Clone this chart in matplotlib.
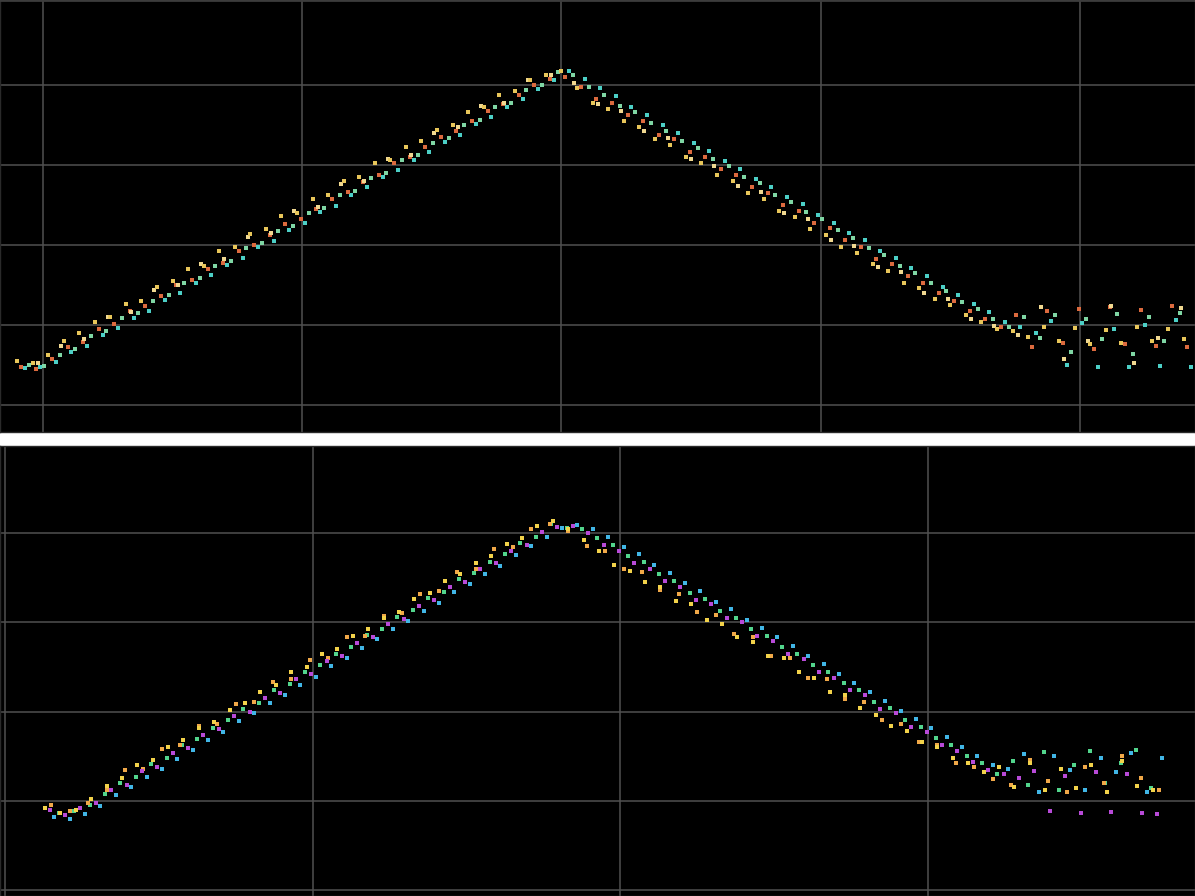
import matplotlib
matplotlib.use("Agg")
import matplotlib.pyplot as plt

# ---------------- top panel data ----------------
top_yellow_x = [-5, -2, 1, 4, 7, 10, 13, 16, 19, 22, 25, 28, 31, 34, 37, 40, 43, 46, 49, 52,
                55, 58, 61, 64, 67, 70, 73, 76, 79, 82, 85, 88, 91, 94, 97, 100, 103, 106, 109, 112,
                115, 118, 121, 124, 127, 130, 133, 136, 139, 142, 145, 148, 151, 154, 157, 160, 163, 166, 169, 172,
                175, 178, 181, 184, 187, 190, 193, 196, 199, 202, 205, 208, 211, 214, 217, 220]
top_yellow_y = [0.55, 0.52, 0.62, 0.80, 0.90, 1.04, 1.10, 1.26, 1.30, 1.48, 1.55, 1.70, 1.74, 1.93, 1.98, 2.14, 2.20, 2.36, 2.40, 2.58,
                2.62, 2.80, 2.85, 3.02, 3.06, 3.22, 3.30, 3.44, 3.50, 3.66, 3.72, 3.88, 3.92, 4.06, 4.12, 4.18, 3.96, 3.78, 3.70, 3.55,
                3.48, 3.32, 3.25, 3.10, 3.03, 2.88, 2.80, 2.65, 2.58, 2.43, 2.35, 2.20, 2.12, 1.98, 1.90, 1.76, 1.68, 1.53, 1.46, 1.32,
                1.25, 1.12, 1.04, 0.95, 0.92, 0.85, 0.98, 0.80, 0.96, 0.76, 0.94, 0.78, 0.97, 0.80, 0.95, 0.82]

top_orange_x = [-4.25, -1.25, 1.75, 4.75, 7.75, 10.75, 13.75, 16.75, 19.75, 22.75, 25.75, 28.75, 31.75, 34.75, 37.75, 40.75,
                43.75, 46.75, 49.75, 52.75, 55.75, 58.75, 61.75, 64.75, 67.75, 70.75, 73.75, 76.75, 79.75, 82.75, 85.75, 88.75,
                91.75, 94.75, 97.75, 100.75, 103.75, 106.75, 109.75, 112.75, 115.75, 118.75, 121.75, 124.75, 127.75, 130.75,
                133.75, 136.75, 139.75, 142.75, 145.75, 148.75, 151.75, 154.75, 157.75, 160.75, 163.75, 166.75, 169.75, 172.75,
                175.75, 178.75, 181.75, 184.75, 187.75, 190.75, 193.75, 196.75, 199.75, 202.75, 205.75, 208.75, 211.75, 214.75,
                217.75, 220.75]
top_orange_y = [0.47, 0.45, 0.58, 0.72, 0.79, 0.95, 1.01, 1.18, 1.24, 1.36, 1.50, 1.56, 1.70, 1.78, 1.93, 2.00,
                2.12, 2.26, 2.33, 2.45, 2.58, 2.66, 2.79, 2.88, 3.02, 3.10, 3.22, 3.35, 3.43, 3.55, 3.68, 3.76,
                3.88, 4.00, 4.08, 4.10, 3.98, 3.82, 3.78, 3.62, 3.55, 3.38, 3.32, 3.16, 3.10, 2.95,
                2.88, 2.72, 2.65, 2.50, 2.43, 2.28, 2.21, 2.06, 1.98, 1.83, 1.76, 1.61, 1.53, 1.40,
                1.30, 1.18, 1.08, 0.98, 1.12, 0.72, 1.18, 0.78, 1.20, 0.70, 1.22, 0.76, 1.19, 0.74,
                1.24, 0.72]

top_cyan_x = [-3.5, -0.5, 2.5, 5.5, 8.5, 11.5, 14.5, 17.5, 20.5, 23.5, 26.5, 29.5, 32.5, 35.5, 38.5, 41.5,
              44.5, 47.5, 50.5, 53.5, 56.5, 59.5, 62.5, 65.5, 68.5, 71.5, 74.5, 77.5, 80.5, 83.5, 86.5, 89.5,
              92.5, 95.5, 98.5, 101.5, 104.5, 107.5, 110.5, 113.5, 116.5, 119.5, 122.5, 125.5, 128.5, 131.5,
              134.5, 137.5, 140.5, 143.5, 146.5, 149.5, 152.5, 155.5, 158.5, 161.5, 164.5, 167.5, 170.5, 173.5,
              176.5, 179.5, 182.5, 185.5, 188.5, 191.5, 194.5, 197.5, 200.5, 203.5, 206.5, 209.5, 212.5, 215.5,
              218.5, 221.5]
top_cyan_y = [0.46, 0.48, 0.54, 0.66, 0.74, 0.87, 0.96, 1.09, 1.18, 1.31, 1.40, 1.53, 1.62, 1.75, 1.84, 1.97,
              2.05, 2.19, 2.27, 2.41, 2.49, 2.63, 2.72, 2.85, 2.94, 3.06, 3.16, 3.29, 3.38, 3.51, 3.60, 3.73,
              3.82, 3.95, 4.06, 4.18, 4.08, 3.96, 3.86, 3.72, 3.63, 3.50, 3.40, 3.27, 3.18, 3.05,
              2.95, 2.82, 2.73, 2.60, 2.51, 2.38, 2.28, 2.15, 2.06, 1.93, 1.84, 1.71, 1.61, 1.48,
              1.38, 1.26, 1.16, 1.04, 0.98, 0.90, 1.05, 0.50, 1.02, 0.48, 0.95, 0.47, 1.00, 0.49,
              1.06, 0.47]

top_green_x = [-2.75, 0.25, 3.25, 6.25, 9.25, 12.25, 15.25, 18.25, 21.25, 24.25, 27.25, 30.25, 33.25, 36.25, 39.25,
               42.25, 45.25, 48.25, 51.25, 54.25, 57.25, 60.25, 63.25, 66.25, 69.25, 72.25, 75.25, 78.25, 81.25, 84.25,
               87.25, 90.25, 93.25, 96.25, 99.25, 102.25, 105.25, 108.25, 111.25, 114.25, 117.25, 120.25, 123.25, 126.25,
               129.25, 132.25, 135.25, 138.25, 141.25, 144.25, 147.25, 150.25, 153.25, 156.25, 159.25, 162.25, 165.25,
               168.25, 171.25, 174.25, 177.25, 180.25, 183.25, 186.25, 189.25, 192.25, 195.25, 198.25, 201.25, 204.25,
               207.25, 210.25, 213.25, 216.25, 219.25]
top_green_y = [0.50, 0.49, 0.63, 0.70, 0.86, 0.93, 1.09, 1.15, 1.30, 1.37, 1.52, 1.59, 1.74, 1.80, 1.96,
               2.02, 2.18, 2.24, 2.40, 2.46, 2.62, 2.68, 2.84, 2.90, 3.06, 3.12, 3.28, 3.34, 3.50, 3.56,
               3.72, 3.78, 3.94, 4.00, 4.16, 4.12, 3.98, 3.88, 3.74, 3.66, 3.52, 3.43, 3.30, 3.21,
               3.08, 2.99, 2.85, 2.77, 2.63, 2.54, 2.41, 2.32, 2.19, 2.09, 1.96, 1.87, 1.74,
               1.65, 1.52, 1.42, 1.29, 1.20, 1.07, 0.97, 1.10, 0.84, 1.12, 0.66, 1.08, 0.82,
               1.14, 0.64, 1.10, 0.80, 1.15]

top_pale_x = [-1, 3.5, 8, 12.5, 17, 21.5, 26, 30.5, 35, 39.5, 44, 48.5, 53, 57.5, 62, 66.5, 71, 75.5, 80, 84.5,
              89, 93.5, 98, 102.5, 107, 111.5, 116, 120.5, 125, 129.5, 134, 138.5, 143, 147.5, 152, 156.5, 161, 165.5,
              170, 174.5, 179, 183.5, 188, 192.5, 197, 201.5, 206, 210.5, 215, 219.5]
top_pale_y = [0.52, 0.74, 0.82, 1.10, 1.16, 1.44, 1.50, 1.76, 1.82, 2.10, 2.15, 2.42, 2.48, 2.76, 2.80, 3.08, 3.13, 3.40, 3.47, 3.74,
              3.78, 4.06, 4.12, 4.02, 3.76, 3.68, 3.42, 3.34, 3.08, 2.99, 2.74, 2.66, 2.40, 2.32, 2.06, 1.99, 1.72, 1.66,
              1.40, 1.33, 1.08, 0.99, 0.88, 1.22, 0.58, 0.80, 1.24, 0.52, 0.84, 1.21]

top_xticks = [0, 50, 100, 150, 200]
top_yticks = [0, 1, 2, 3, 4]

# ---------------- bottom panel data ----------------
bot_yellow_x = [13, 18, 23, 28, 33, 38, 43, 48, 53, 58, 63, 68, 73, 78, 83, 88, 93, 98, 103, 108,
                113, 118, 123, 128, 133, 138, 143, 148, 153, 158, 163, 168, 173, 178, 183, 188, 193, 198, 203, 208,
                213, 218, 223, 228, 233, 238, 243, 248, 253, 258, 263, 268, 273, 278, 283, 288, 293, 298, 303, 308,
                313, 318, 323, 328, 333, 338, 343, 348, 353, 358, 363, 368, 373]
bot_yellow_y = [0.92, 0.86, 0.90, 1.02, 1.16, 1.26, 1.40, 1.46, 1.60, 1.68, 1.81, 1.88, 2.02, 2.10, 2.22, 2.30, 2.44, 2.50, 2.64, 2.70,
                2.85, 2.92, 3.05, 3.12, 3.26, 3.33, 3.46, 3.54, 3.66, 3.74, 3.88, 3.94, 4.08, 4.14, 4.05, 3.92, 3.80, 3.64, 3.58, 3.45,
                3.40, 3.24, 3.20, 3.02, 2.98, 2.84, 2.78, 2.62, 2.60, 2.44, 2.38, 2.22, 2.18, 2.04, 1.96, 1.84, 1.78, 1.66, 1.60, 1.48,
                1.42, 1.32, 1.38, 1.15, 1.42, 1.12, 1.36, 1.14, 1.40, 1.10, 1.45, 1.16, 1.12]

bot_magenta_x = [14.5, 19.5, 24.5, 29.5, 34.5, 39.5, 44.5, 49.5, 54.5, 59.5, 64.5, 69.5, 74.5, 79.5, 84.5, 89.5, 94.5, 99.5,
                 104.5, 109.5, 114.5, 119.5, 124.5, 129.5, 134.5, 139.5, 144.5, 149.5, 154.5, 159.5, 164.5, 169.5, 174.5, 179.5,
                 184.5, 189.5, 194.5, 199.5, 204.5, 209.5, 214.5, 219.5, 224.5, 229.5, 234.5, 239.5, 244.5, 249.5, 254.5, 259.5,
                 264.5, 269.5, 274.5, 279.5, 284.5, 289.5, 294.5, 299.5, 304.5, 309.5, 314.5, 319.5, 324.5, 329.5, 334.5, 339.5,
                 344.5, 349.5, 354.5, 359.5, 364.5, 369.5, 374.5]
bot_magenta_y = [0.90, 0.84, 0.92, 0.97, 1.12, 1.18, 1.33, 1.38, 1.53, 1.59, 1.74, 1.80, 1.95, 2.00, 2.15, 2.21, 2.36, 2.42,
                 2.57, 2.62, 2.77, 2.83, 2.98, 3.04, 3.18, 3.25, 3.39, 3.45, 3.60, 3.66, 3.80, 3.87, 4.01, 4.07,
                 4.08, 4.00, 3.87, 3.80, 3.66, 3.60, 3.46, 3.40, 3.25, 3.20, 3.05, 3.00, 2.85, 2.79, 2.64, 2.59,
                 2.44, 2.38, 2.24, 2.18, 2.03, 1.98, 1.83, 1.77, 1.63, 1.56, 1.43, 1.34, 1.30, 1.26, 1.33, 0.88,
                 1.28, 0.86, 1.32, 0.87, 1.30, 0.86, 0.85]

bot_cyan_x = [16, 21, 26, 31, 36, 41, 46, 51, 56, 61, 66, 71, 76, 81, 86, 91, 96, 101, 106, 111,
              116, 121, 126, 131, 136, 141, 146, 151, 156, 161, 166, 171, 176, 181, 186, 191, 196, 201, 206, 211,
              216, 221, 226, 231, 236, 241, 246, 251, 256, 261, 266, 271, 276, 281, 286, 291, 296, 301, 306, 311,
              316, 321, 326, 331, 336, 341, 346, 351, 356, 361, 366, 371, 376]
bot_cyan_y = [0.82, 0.80, 0.85, 0.94, 1.06, 1.15, 1.27, 1.36, 1.47, 1.57, 1.68, 1.77, 1.89, 1.98, 2.10, 2.19, 2.30, 2.39, 2.51, 2.60,
              2.71, 2.81, 2.92, 3.01, 3.13, 3.22, 3.34, 3.43, 3.54, 3.63, 3.75, 3.85, 3.96, 4.06, 4.09, 4.04, 3.96, 3.84, 3.76, 3.64,
              3.55, 3.44, 3.35, 3.23, 3.15, 3.03, 2.94, 2.83, 2.73, 2.62, 2.53, 2.42, 2.32, 2.22, 2.12, 2.01, 1.92, 1.81, 1.71, 1.60,
              1.50, 1.40, 1.36, 1.52, 1.10, 1.50, 1.34, 1.12, 1.48, 1.32, 1.53, 1.10, 1.48]

bot_green_x = [17.5, 22.5, 27.5, 32.5, 37.5, 42.5, 47.5, 52.5, 57.5, 62.5, 67.5, 72.5, 77.5, 82.5, 87.5, 92.5, 97.5, 102.5,
               107.5, 112.5, 117.5, 122.5, 127.5, 132.5, 137.5, 142.5, 147.5, 152.5, 157.5, 162.5, 167.5, 172.5, 177.5, 182.5,
               187.5, 192.5, 197.5, 202.5, 207.5, 212.5, 217.5, 222.5, 227.5, 232.5, 237.5, 242.5, 247.5, 252.5, 257.5, 262.5,
               267.5, 272.5, 277.5, 282.5, 287.5, 292.5, 297.5, 302.5, 307.5, 312.5, 317.5, 322.5, 327.5, 332.5, 337.5, 342.5,
               347.5, 352.5, 357.5, 362.5, 367.5, 372.5]
bot_green_y = [0.86, 0.88, 0.95, 1.08, 1.20, 1.27, 1.41, 1.48, 1.62, 1.69, 1.82, 1.90, 2.03, 2.10, 2.24, 2.31, 2.44, 2.52,
               2.65, 2.72, 2.86, 2.93, 3.06, 3.14, 3.27, 3.34, 3.48, 3.55, 3.68, 3.76, 3.89, 3.96, 4.10, 4.06,
               4.05, 3.94, 3.87, 3.74, 3.67, 3.54, 3.46, 3.33, 3.26, 3.13, 3.05, 2.93, 2.85, 2.72, 2.65, 2.52,
               2.44, 2.32, 2.24, 2.11, 2.04, 1.91, 1.83, 1.70, 1.63, 1.50, 1.42, 1.30, 1.45, 1.18, 1.55, 1.12,
               1.40, 1.56, 1.20, 1.42, 1.57, 1.14]

bot_orange_x = [15, 21, 27, 33, 39, 45, 51, 57, 63, 69, 75, 81, 87, 93, 99, 105, 111, 117, 123, 129,
                135, 141, 147, 153, 159, 165, 171, 177, 183, 189, 195, 201, 207, 213, 219, 225, 231, 237, 243, 249,
                255, 261, 267, 273, 279, 285, 291, 297, 303, 309, 315, 321, 327, 333, 339, 345, 351, 357, 363, 369, 375]
bot_orange_y = [0.95, 0.88, 0.97, 1.12, 1.34, 1.36, 1.58, 1.62, 1.84, 1.86, 2.08, 2.11, 2.33, 2.36, 2.58, 2.60, 2.83, 2.85, 3.07, 3.10,
                3.32, 3.35, 3.56, 3.60, 3.82, 3.84, 4.05, 4.10, 4.02, 3.86, 3.80, 3.60, 3.56, 3.36, 3.32, 3.11, 3.08, 2.87, 2.84, 2.62,
                2.60, 2.38, 2.36, 2.14, 2.11, 1.90, 1.86, 1.66, 1.62, 1.42, 1.38, 1.24, 1.18, 1.46, 1.22, 1.10, 1.38, 1.20, 1.50, 1.26, 1.12]

bot_xticks = [0, 100, 200, 300]
bot_yticks = [0, 1, 2, 3, 4]

# ---------------- drawing ----------------
W, H = 1195, 896
fig = plt.figure(figsize=(W / 100, H / 100), dpi=100, facecolor="white")
ax1 = fig.add_axes([0, 1 - 432 / H, 1, 432 / H])
ax2 = fig.add_axes([0, 0, 1, 450 / H])

for ax in (ax1, ax2):
    ax.set_facecolor("black")
    ax.grid(True, color="#505050", linewidth=1.1)
    ax.set_axisbelow(True)
    ax.tick_params(left=False, bottom=False, labelleft=False, labelbottom=False)
    for sp in ax.spines.values():
        sp.set_color("#2a2a2a")
        sp.set_linewidth(1.0)
ax1.spines["top"].set_color("#3c3c3c")
ax1.spines["top"].set_linewidth(2.0)

ms = 8
ax1.scatter(top_green_x, top_green_y, s=ms, marker="s", color="#7fd6a4", linewidths=0)
ax1.scatter(top_cyan_x, top_cyan_y, s=ms, marker="s", color="#4ccfc6", linewidths=0)
ax1.scatter(top_orange_x, top_orange_y, s=ms, marker="s", color="#dc6a3e", linewidths=0)
ax1.scatter(top_pale_x, top_pale_y, s=ms, marker="s", color="#f0d890", linewidths=0)
ax1.scatter(top_yellow_x, top_yellow_y, s=ms, marker="s", color="#e8c65a", linewidths=0)
ax1.set_xticks(top_xticks)
ax1.set_yticks(top_yticks)
ax1.set_xlim(-8.29, 222.2)
ax1.set_ylim(-0.3375, 5.0625)

ax2.scatter(bot_green_x, bot_green_y, s=ms, marker="s", color="#52d58c", linewidths=0)
ax2.scatter(bot_cyan_x, bot_cyan_y, s=ms, marker="s", color="#41b6e6", linewidths=0)
ax2.scatter(bot_orange_x, bot_orange_y, s=ms, marker="s", color="#f0a848", linewidths=0)
ax2.scatter(bot_yellow_x, bot_yellow_y, s=ms, marker="s", color="#f2d24a", linewidths=0)
ax2.scatter(bot_magenta_x, bot_magenta_y, s=ms, marker="s", color="#b84ad8", linewidths=0)
ax2.set_xticks(bot_xticks)
ax2.set_yticks(bot_yticks)
ax2.set_xlim(-1.625, 386.7)
ax2.set_ylim(-0.067, 4.975)

fig.savefig("out.png", dpi=100, facecolor="white")
